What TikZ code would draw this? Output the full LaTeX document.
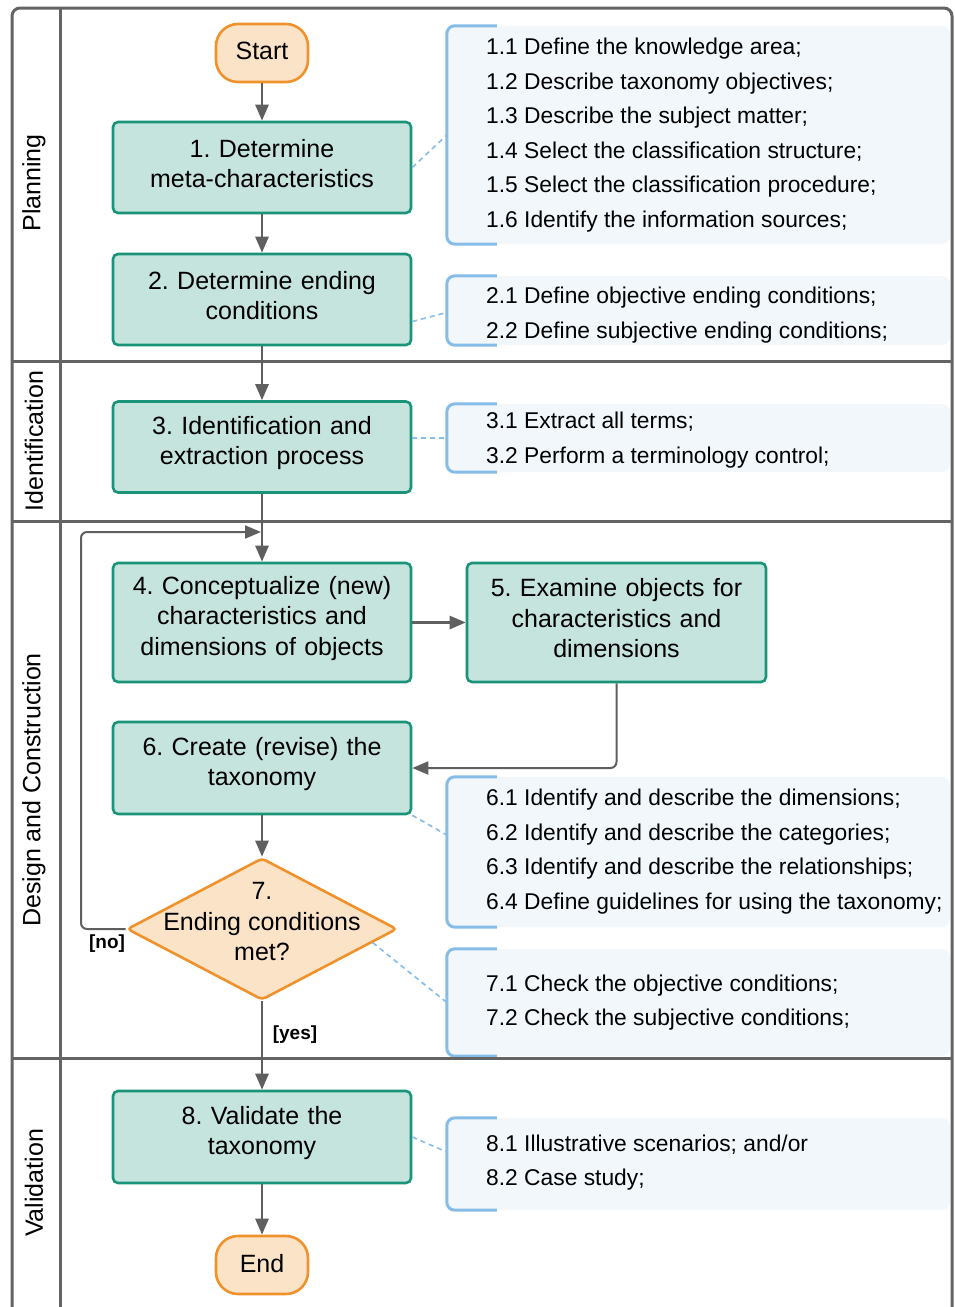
\documentclass[tikz,border=0pt]{standalone}
\usepackage{fontspec}
\setmainfont{Liberation Sans}
\usetikzlibrary{shapes.geometric,arrows.meta,calc}
\definecolor{boxfill}{HTML}{C5E4DD}
\definecolor{boxline}{HTML}{1A9479}
\definecolor{termfill}{HTML}{FBE3C8}
\definecolor{termline}{HTML}{F0922B}
\definecolor{annfillc}{HTML}{F2F7FC}
\definecolor{annline}{HTML}{86BDE8}
\definecolor{lanecol}{HTML}{646464}
\definecolor{arrcol}{HTML}{5F5F5F}
\newcommand\procpadding{\endgraf\vspace*{8pt}}
\frenchspacing
\begin{document}
\begin{tikzpicture}[x=1pt,y=-1pt,
 proc/.style={rectangle, rounded corners=5pt, draw=boxline, fill=boxfill, line width=2.6pt, minimum width=298pt, minimum height=91pt, align=center, font=\fontsize{25}{30.5}\selectfont, text width=290pt, inner sep=0pt, execute at end node=\procpadding},
 term/.style={rectangle, rounded corners=22pt, draw=termline, fill=termfill, line width=2.6pt, minimum width=92pt, minimum height=58pt, inner sep=0pt, font=\fontsize{25}{30.5}\selectfont, text depth=4pt},
 flow/.style={draw=arrcol, line width=2.6pt, -{Triangle[length=16pt,width=13pt]}},
 flowthin/.style={draw=arrcol, line width=2pt, rounded corners=6pt, -{Triangle[length=16pt,width=13pt]}},
 lane/.style={draw=lanecol, line width=3pt},
 lanelbl/.style={rotate=90, font=\fontsize{25}{30}\selectfont, inner sep=0pt},
 annbox/.style={rectangle, rounded corners=8pt, fill=annfillc, minimum width=503pt, inner sep=0pt},
 bracket/.style={draw=annline, line width=3pt, rounded corners=8pt},
 anntext/.style={anchor=west, align=left, inner sep=0pt, font=\fontsize{22.8}{34.5}\selectfont},
 dashline/.style={draw=annline, line width=1.6pt, dash pattern=on 5pt off 4pt},
 lbl/.style={font=\bfseries\fontsize{19}{22}\selectfont, inner sep=0pt}
]
\useasboundingbox (0,0) rectangle (954,1307);
\fill[white] (0,0) rectangle (954,1307);

% annotation backgrounds
\node[annbox, minimum height=218pt] (a1) at (698.5,135) {};
\node[annbox, minimum height=69pt] (a2) at (698.5,310.5) {};
\node[annbox, minimum height=68pt] (a3) at (698.5,438) {};
\node[annbox, minimum height=150pt] (a6) at (698.5,852) {};
\node[annbox, minimum height=107pt] (a7) at (698.5,1002.5) {};
\node[annbox, minimum height=92pt] (a8) at (698.5,1164) {};
\foreach \a in {a1,a2,a3,a6,a7,a8}{
  \draw[bracket] ([xshift=50pt]\a.north west) -- (\a.north west) -- (\a.south west) -- ([xshift=50pt]\a.south west);
}
\node[anntext] (t1) at (486,135) {1.1 Define the knowledge area;\\1.2 Describe taxonomy objectives;\\1.3 Describe the subject matter;\\1.4 Select the classification structure;\\1.5 Select the classification procedure;\\1.6 Identify the information sources;};
\node[anntext] (t2) at (486,315) {2.1 Define objective ending conditions;\\2.2 Define subjective ending conditions;};
\node[anntext] (t3) at (486,440) {3.1 Extract all terms;\\3.2 Perform a terminology control;};
\node[anntext] (t6) at (486,851.5) {6.1 Identify and describe the dimensions;\\6.2 Identify and describe the categories;\\6.3 Identify and describe the relationships;\\6.4 Define guidelines for using the taxonomy;};
\node[anntext] (t7) at (486,1002.5) {7.1 Check the objective conditions;\\7.2 Check the subjective conditions;};
\node[anntext] (t8) at (486,1162.5) {8.1 Illustrative scenarios; and/or\\8.2 Case study;};

% lanes
\draw[lane, rounded corners=8pt] (12,1310) -- (12,8) -- (952,8) -- (952,1310);
\draw[lane] (60,8) -- (60,1310);
\draw[lane] (12,361) -- (952,361);
\draw[lane] (12,521) -- (952,521);
\draw[lane] (12,1058) -- (952,1058);
\node[lanelbl] (lp) at (34,183) {Planning};
\node[lanelbl] (li) at (34,441) {Identification};
\node[lanelbl] (ld) at (34,790) {Design and Construction};
\node[lanelbl] (lv) at (34,1183) {Validation};

% nodes
\node[term] (st) at (262,53) {Start};
\node[proc] (b1) at (262,167.5) {1. Determine\\meta-characteristics};
\node[proc] (b2) at (262,299.5) {2. Determine ending\\conditions};
\node[proc] (b3) at (262,447) {3. Identification and\\extraction process};
\node[proc, minimum height=119pt] (b4) at (262,622.5) {4. Conceptualize (new)\\characteristics and\\dimensions of objects};
\node[proc, minimum height=119pt, minimum width=299pt] (b5) at (616.5,622.5) {5. Examine objects for\\characteristics and\\dimensions};
\node[proc, minimum height=92pt] (b6) at (262,768) {6. Create (revise) the\\taxonomy};
\node[diamond, draw=termline, fill=termfill, line width=2.6pt, minimum width=270pt, minimum height=142pt, inner sep=0pt, aspect=1.9, rounded corners=4pt] (d7) at (262,929) {};
\node[align=center, inner sep=0pt, font=\fontsize{25}{30.5}\selectfont] (d7t) at (262,922) {7.\\Ending conditions\\met?};
\node[proc, minimum height=92pt] (b8) at (262,1137) {8. Validate the\\taxonomy};
\node[term] (en) at (262,1265) {End};

% connectors
\draw[flow] (st) -- (b1);
\draw[flow] (b1) -- (b2);
\draw[flow] (b2) -- (b3);
\draw[flow] (b3) -- (b4);
\draw[flow] (b4) -- (b5);
\draw[flowthin] (b5.south) |- (b6.east);
\draw[flow] (b6) -- (d7);
\coordinate (loopc) at (81,532);
\coordinate (loopend) at (261,532);
\draw[flowthin] (d7.west) -| (loopc) -- (loopend);
\draw[flow] (d7) -- (b8);
\draw[flow] (b8) -- (en);
\node[lbl] (no) at (107,944) {[no]};
\node[lbl] (yes) at (295,1035) {[yes]};

% dashed annotation links
\draw[dashline] (b1.east) -- (a1.west);
\draw[dashline] ([yshift=-22pt]b2.east) -- ([yshift=-2pt]a2.west);
\draw[dashline] ([yshift=9pt]b3.east) -- (a3.west);
\draw[dashline] (b6.south east) -- ([yshift=17pt]a6.west);
\draw[dashline] (d7.-7) -- (a7.west);
\draw[dashline] (b8.east) -- ([yshift=12pt]a8.west);
\end{tikzpicture}
\end{document}
